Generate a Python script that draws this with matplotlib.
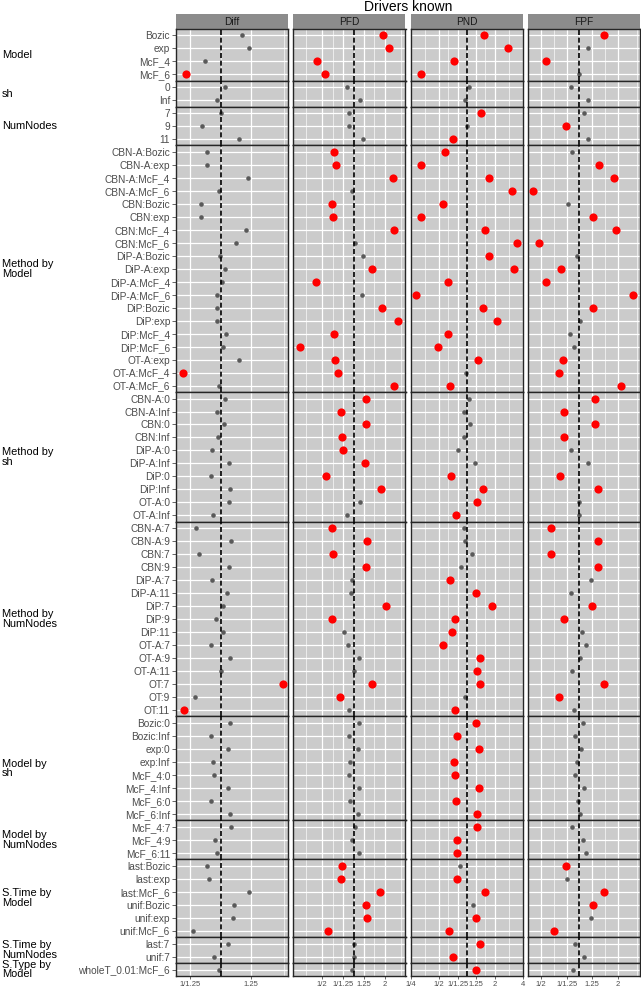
import numpy as np
import matplotlib
matplotlib.use("Agg")
import matplotlib.pyplot as plt
from matplotlib.ticker import FixedLocator, NullFormatter

plt.rcParams['font.family'] = ['Liberation Sans', 'DejaVu Sans']

# ----------------------------------------------------------------
# data: ratio (log scale) per row and column, plus flag for red points
# ----------------------------------------------------------------
group_names = ["Model", "sh", "NumNodes", "Method by\nModel", "Method by\nsh",
               "Method by\nNumNodes", "Model by\nsh", "Model by\nNumNodes",
               "S.Time by\nModel", "S.Time by\nNumNodes", "S.Type by\nModel"]

group_rows = [
    ["Bozic", "exp", "McF_4", "McF_6"],
    ["0", "Inf"],
    ["7", "9", "11"],
    ["CBN-A:Bozic", "CBN-A:exp", "CBN-A:McF_4", "CBN-A:McF_6",
     "CBN:Bozic", "CBN:exp", "CBN:McF_4", "CBN:McF_6",
     "DiP-A:Bozic", "DiP-A:exp", "DiP-A:McF_4", "DiP-A:McF_6",
     "DiP:Bozic", "DiP:exp", "DiP:McF_4", "DiP:McF_6",
     "OT-A:exp", "OT-A:McF_4", "OT-A:McF_6"],
    ["CBN-A:0", "CBN-A:Inf", "CBN:0", "CBN:Inf", "DiP-A:0", "DiP-A:Inf",
     "DiP:0", "DiP:Inf", "OT-A:0", "OT-A:Inf"],
    ["CBN-A:7", "CBN-A:9", "CBN:7", "CBN:9", "DiP-A:7", "DiP-A:11",
     "DiP:7", "DiP:9", "DiP:11", "OT-A:7", "OT-A:9", "OT-A:11",
     "OT:7", "OT:9", "OT:11"],
    ["Bozic:0", "Bozic:Inf", "exp:0", "exp:Inf", "McF_4:0", "McF_4:Inf",
     "McF_6:0", "McF_6:Inf"],
    ["McF_4:7", "McF_4:9", "McF_6:11"],
    ["last:Bozic", "last:exp", "last:McF_6", "unif:Bozic", "unif:exp", "unif:McF_6"],
    ["last:7", "unif:7"],
    ["wholeT_0.01:McF_6"],
]

columns = ["Diff", "PFD", "PND", "FPF"]

diff = [1.17, 1.23, 0.894, 0.775, 1.03, 0.975, 1.00, 0.873, 1.14, 0.907,
        0.907, 1.22, 0.99, 0.867, 0.867, 1.20, 1.115, 0.995, 1.03, 1.01,
        0.971, 0.975, 0.975, 1.04, 1.02, 1.145, 0.759, 0.99, 1.03, 0.973,
        1.024, 0.978, 0.939, 1.065, 0.930, 1.072, 1.06, 0.945, 0.835, 1.08,
        0.856, 1.06, 0.939, 1.047, 1.017, 0.969, 1.019, 0.930, 1.07, 1.00,
        1.57, 0.83, 0.767, 1.07, 0.932, 1.057, 0.947, 0.95, 1.055, 0.930,
        1.072, 1.08, 0.96, 0.973, 0.907, 0.918, 1.225, 1.104, 1.091, 0.816,
        1.055, 0.95, 0.99]
pfd = [1.89, 2.17, 0.45, 0.531, 0.867, 1.154, 0.90, 0.905, 1.24, 0.647,
       0.676, 2.40, 0.96, 0.623, 0.638, 2.44, 1.04, 1.23, 1.51, 0.436,
       1.21, 1.87, 2.66, 0.651, 0.309, 0.657, 0.707, 2.42, 1.32, 0.76,
       1.31, 0.766, 0.783, 1.28, 0.547, 1.82, 1.154, 0.867, 0.619, 1.34,
       0.638, 1.32, 0.955, 0.94, 2.02, 0.619, 0.806, 0.886, 1.12, 1.00,
       1.50, 0.738, 0.905, 1.12, 0.894, 1.09, 0.92, 0.90, 1.12, 0.914,
       1.097, 1.04, 0.96, 1.13, 0.766, 0.755, 1.77, 1.31, 1.33, 0.567,
       1.00, 1.00, 0.97]
pnd = [1.55, 2.82, 0.724, 0.321, 1.06, 0.95, 1.42, 1.00, 0.711, 0.587,
       0.323, 1.73, 3.09, 0.559, 0.323, 1.58, 3.52, 1.73, 3.27, 0.633,
       0.283, 1.51, 2.13, 0.628, 0.494, 1.32, 0.975, 0.655, 1.067, 0.935,
       1.077, 0.935, 0.811, 1.23, 0.677, 1.49, 1.29, 0.772, 0.928, 0.96,
       1.13, 0.868, 0.655, 1.25, 1.88, 0.753, 0.699, 0.559, 1.38, 1.30,
       1.40, 0.95, 0.753, 1.26, 0.78, 1.37, 0.735, 0.742, 1.36, 0.772,
       1.29, 1.28, 0.791, 0.78, 0.846, 0.786, 1.56, 1.18, 1.27, 0.639,
       1.39, 0.717, 1.26]
fpf = [1.56, 1.18, 0.55, 0.99, 0.862, 1.16, 1.08, 0.792, 1.18, 0.871,
       1.42, 1.86, 0.433, 0.821, 1.285, 1.92, 0.488, 0.96, 0.715, 0.55,
       2.65, 1.285, 1.01, 0.851, 0.914, 0.751, 0.69, 2.10, 1.33, 0.755,
       1.32, 0.764, 0.862, 1.17, 0.711, 1.41, 1.00, 1.00, 0.602, 1.39,
       0.602, 1.405, 1.23, 0.856, 1.26, 0.76, 1.05, 1.13, 1.01, 0.882,
       1.57, 0.699, 0.91, 1.075, 0.93, 1.04, 0.965, 0.92, 1.09, 0.977,
       1.02, 0.882, 1.07, 1.13, 0.788, 0.806, 1.57, 1.27, 1.23, 0.631,
       0.92, 1.09, 0.887]

diff_sig = [0, 0, 0, 1, 0, 0, 0, 0, 0, 0,
            0, 0, 0, 0, 0, 0, 0, 0, 0, 0,
            0, 0, 0, 0, 0, 0, 1, 0, 0, 0,
            0, 0, 0, 0, 0, 0, 0, 0, 0, 0,
            0, 0, 0, 0, 0, 0, 0, 0, 0, 0,
            1, 0, 1, 0, 0, 0, 0, 0, 0, 0,
            0, 0, 0, 0, 0, 0, 0, 0, 0, 0,
            0, 0, 0]
pfd_sig = [1, 1, 1, 1, 0, 0, 0, 0, 0, 1,
           1, 1, 0, 1, 1, 1, 0, 0, 1, 1,
           0, 1, 1, 1, 1, 1, 1, 1, 1, 1,
           1, 1, 1, 1, 1, 1, 0, 0, 1, 1,
           1, 1, 0, 0, 1, 1, 0, 0, 0, 0,
           1, 1, 0, 0, 0, 0, 0, 0, 0, 0,
           0, 0, 0, 0, 1, 1, 1, 1, 1, 1,
           0, 0, 0]
pnd_sig = [1, 1, 1, 1, 0, 0, 1, 0, 1, 1,
           1, 1, 1, 1, 1, 1, 1, 1, 1, 1,
           1, 1, 1, 1, 1, 1, 0, 1, 0, 0,
           0, 0, 0, 0, 1, 1, 1, 1, 0, 0,
           0, 0, 1, 1, 1, 1, 1, 1, 1, 1,
           1, 0, 1, 1, 1, 1, 1, 1, 1, 1,
           1, 1, 1, 1, 0, 1, 1, 0, 1, 1,
           1, 1, 1]
fpf_sig = [1, 0, 1, 0, 0, 0, 0, 1, 0, 0,
           1, 1, 1, 0, 1, 1, 1, 0, 1, 1,
           1, 1, 0, 0, 0, 1, 1, 1, 1, 1,
           1, 1, 0, 0, 1, 1, 0, 0, 1, 1,
           1, 1, 0, 0, 1, 1, 0, 0, 0, 0,
           1, 1, 0, 0, 0, 0, 0, 0, 0, 0,
           0, 0, 0, 0, 1, 0, 1, 1, 0, 1,
           0, 0, 0]

col_values = [diff, pfd, pnd, fpf]
col_sig = [diff_sig, pfd_sig, pnd_sig, fpf_sig]
col_xlim = [(0.722, 1.635), (0.265, 3.13), (0.247, 4.02), (0.396, 2.98)]

x_breaks = [0.25, 0.5, 0.8, 1.25, 2, 4]
x_labels = ["1/4", "1/2", "1/1.25", "1.25", "2", "4"]
x_minor = list(np.sqrt(np.array(x_breaks[:-1]) * np.array(x_breaks[1:])))

# ----------------------------------------------------------------
# layout (pixels)
# ----------------------------------------------------------------
W, H = 641, 992
left0, pw, gap = 176, 112.25, 5
top0, bottom0 = 28.7, 976
strip_top = 14.3
n_total = sum(len(r) for r in group_rows)
rh = (bottom0 - top0) / n_total

panel_bg = "#cbcbcb"
strip_bg = "#8c8c8c"
label_col = "#4d4d4d"

fig = plt.figure(figsize=(W / 100, H / 100), dpi=100)

fig.text(408 / W, 1 - 7 / H, "Drivers known", ha="center", va="center",
         fontsize=10, color="black")

starts = np.cumsum([0] + [len(r) for r in group_rows[:-1]])

for j, col in enumerate(columns):
    x0 = left0 + j * (pw + gap)
    sax = fig.add_axes([x0 / W, 1 - top0 / H, pw / W, (top0 - strip_top) / H])
    sax.set_facecolor(strip_bg)
    sax.set_xticks([])
    sax.set_yticks([])
    for s in sax.spines.values():
        s.set_visible(False)
    sax.text(0.5, 0.45, col, ha="center", va="center", fontsize=7.3,
             color="#1a1a1a", transform=sax.transAxes)

    vals = np.array(col_values[j])
    sig = np.array(col_sig[j]).astype(bool)

    for g, rows in enumerate(group_rows):
        n = len(rows)
        st = starts[g]
        y_top = top0 + st * rh
        ax = fig.add_axes([x0 / W, 1 - (y_top + n * rh) / H, pw / W, n * rh / H])
        ax.set_facecolor(panel_bg)
        ax.set_xscale("log")
        ax.set_xlim(*col_xlim[j])
        ax.set_ylim(n - 0.5, -0.5)

        ax.xaxis.set_major_locator(FixedLocator(x_breaks))
        ax.xaxis.set_minor_locator(FixedLocator(x_minor))
        ax.xaxis.set_minor_formatter(NullFormatter())
        ax.set_yticks(range(n))
        ax.grid(which="major", color="white", lw=0.9)
        ax.grid(which="minor", axis="x", color="white", lw=0.45)
        ax.set_axisbelow(True)
        ax.tick_params(which="minor", length=0)

        if g == len(group_rows) - 1:
            ax.set_xticklabels(x_labels)
            ax.tick_params(axis="x", which="major", labelsize=5.5, length=2,
                           pad=1.5, colors=label_col, width=0.6)
        else:
            ax.tick_params(axis="x", which="major", labelbottom=False, length=0)

        if j == 0:
            ax.set_yticklabels(rows)
            ax.tick_params(axis="y", labelsize=7.3, length=2.8, pad=1.5,
                           colors=label_col, width=0.6)
        else:
            ax.tick_params(axis="y", labelleft=False, length=0)

        for s in ax.spines.values():
            s.set_color("#262626")
            s.set_linewidth(1.0)

        v = vals[st:st + n]
        m = sig[st:st + n]
        yy = np.arange(n)
        ax.plot(v[~m], yy[~m], "o", color="#5a5a5a", ms=3.3, mec="none",
                zorder=3, clip_on=False)
        ax.plot(v[m], yy[m], "o", color="#ff0000", ms=5.9, mec="none",
                zorder=3, clip_on=False)
        ax.axvline(1, color="black", lw=1.2, ls=(0, (3, 1.6)), zorder=4)

        if j == 0:
            fig.text(2 / W, 1 - (y_top + n * rh / 2) / H, group_names[g],
                     ha="left", va="center", fontsize=7.9, linespacing=0.95,
                     color="black")

fig.savefig("out.png", dpi=100)
